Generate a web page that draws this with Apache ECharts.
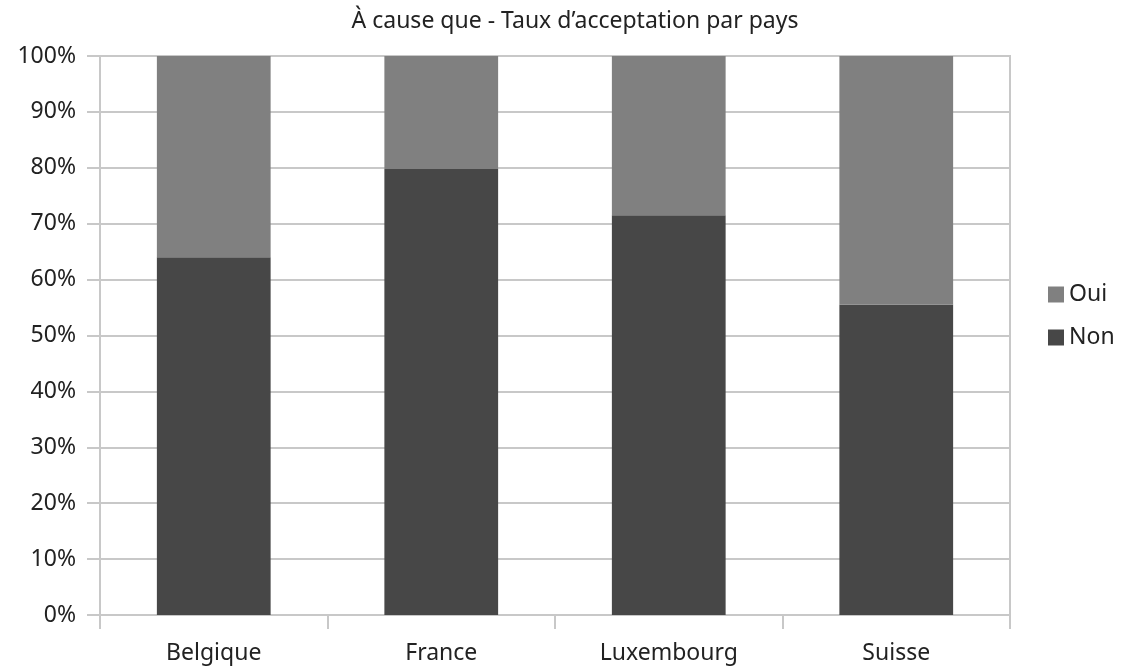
<!DOCTYPE html>
<html>
<head>
<meta charset="utf-8">
<script src="https://cdn.jsdelivr.net/npm/echarts@6/dist/echarts.min.js"></script>
<style>
  html, body { margin: 0; padding: 0; background: #fff; }
  #chart { width: 1125px; height: 670px; }
</style>
</head>
<body>
<div id="chart"></div>
<script>
// pays et parts (en %)
const countries = ['Belgique', 'France', 'Luxembourg', 'Suisse']
const nonValues = [64, 79.8, 71.5, 55.5]
const ouiValues = [36, 20.2, 28.5, 44.5]
const yTicks = [0, 10, 20, 30, 40, 50, 60, 70, 80, 90, 100]

const font = 'Noto Sans'
const gridColor = '#c8c8c8'
const textColor = '#222'

const myChart = echarts.init(document.getElementById('chart'))
const option = {
  animation: false,
  textStyle: {fontFamily: font},
  title: {
    text: 'À cause que - Taux d’acceptation par pays',
    left: 570,
    textAlign: 'center',
    top: 5,
    textStyle: {fontFamily: font, fontSize: 23, fontWeight: 'normal', color: textColor}
  },
  legend: {
    orient: 'vertical',
    left: 1043,
    top: 278,
    icon: 'rect',
    itemWidth: 16,
    itemHeight: 16,
    itemGap: 20,
    data: ['Oui', 'Non'],
    textStyle: {fontFamily: font, fontSize: 23, color: textColor}
  },
  grid: {
    left: 100,
    right: 115,
    top: 56,
    bottom: 55,
    show: true,
    borderColor: gridColor,
    borderWidth: 2
  },
  xAxis: {
    type: 'category',
    data: countries,
    axisLine: {lineStyle: {color: gridColor, width: 2}},
    axisTick: {show: true, length: 14, lineStyle: {color: gridColor, width: 2}},
    axisLabel: {margin: 27, fontSize: 23, color: textColor, fontFamily: font}
  },
  yAxis: {
    type: 'value',
    min: yTicks[0],
    max: yTicks[yTicks.length - 1],
    interval: 10,
    axisLine: {show: true, lineStyle: {color: gridColor, width: 2}},
    axisTick: {show: true, length: 13, lineStyle: {color: gridColor, width: 2}},
    splitLine: {lineStyle: {color: gridColor, width: 2}},
    axisLabel: {margin: 24, fontSize: 23, color: textColor, fontFamily: font, formatter: '{value}%'}
  },
  series: [
    {
      name: 'Non',
      type: 'bar',
      stack: 'total',
      barWidth: '50%',
      itemStyle: {color: '#474747'},
      data: nonValues
    },
    {
      name: 'Oui',
      type: 'bar',
      stack: 'total',
      barWidth: '50%',
      itemStyle: {color: '#808080'},
      data: ouiValues
    }
  ]
}
myChart.setOption(option)
</script>
</body>
</html>
